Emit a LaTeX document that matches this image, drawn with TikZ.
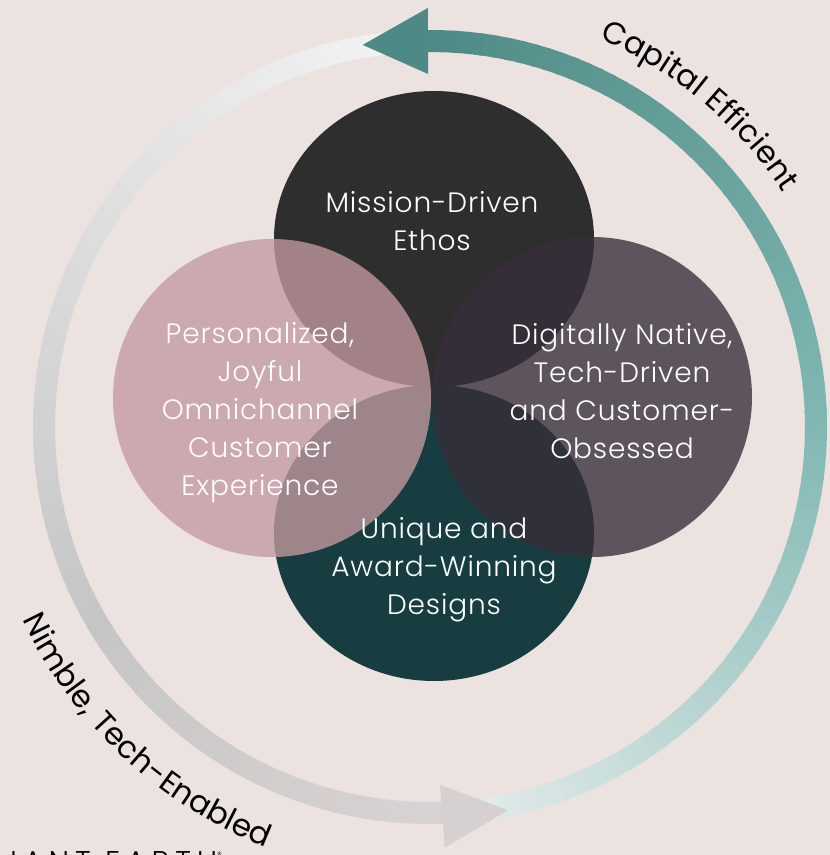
\documentclass[tikz,border=0pt]{standalone}
\usepackage{fontspec}
\usepackage{tikz}
\usetikzlibrary{shapes.geometric,calc,decorations.text}
\newfontfamily\lightfont{Poppins Light}[LetterSpace=3.0]
\newfontfamily\curvefont{Poppins}[LetterSpace=2.0]
\newfontfamily\brandfont{Poppins Light}[LetterSpace=20.0]
\definecolor{bg}{HTML}{ECE2E0}
\definecolor{tealTop}{HTML}{4E8A85}
\definecolor{tealMid}{HTML}{80B7B2}
\definecolor{tealLow}{HTML}{E2EBEB}
\definecolor{greyTop}{HTML}{F3F2F2}
\definecolor{greyMid}{HTML}{C6C5C5}
\definecolor{greyLow}{HTML}{D8D3D2}
\definecolor{headGrey}{HTML}{D6D1D0}
\definecolor{missionC}{HTML}{2E2E2E}
\definecolor{designC}{HTML}{183D40}
\definecolor{personalC}{HTML}{C39AA0}
\definecolor{digitalC}{HTML}{372D3A}

\begin{document}
\begin{tikzpicture}[x=1pt,y=1pt]
  \tikzstyle{blob}=[ellipse,inner sep=0pt,draw=none]
  \tikzstyle{lbl}=[text=white,align=center,font=\lightfont\fontsize{28}{38}\selectfont]
  \tikzstyle{ringseg}=[line width=22pt]

  \fill[bg] (0,0) rectangle (830,855);
  \useasboundingbox (0,0) rectangle (830,855);
  \coordinate (O) at (430,428);

  % teal arc, light at the bottom, dark at the top
  \foreach \a in {-84,-82,...,88}{
    \pgfmathsetmacro\p{\a>0 ? \a/90*100 : (-\a)/84*100}
    \ifnum\a>0 \colorlet{seg}{tealTop!\p!tealMid}\else\colorlet{seg}{tealLow!\p!tealMid}\fi
    \draw[ringseg,seg] ($(O)+(\a:386)$) arc[start angle=\a, end angle=\a+2.6, radius=386];
  }
  % grey arc down the left side
  \foreach \a in {96,98,...,270}{
    \pgfmathsetmacro\p{\a<210 ? (\a-96)/114*100 : (\a-210)/60*100}
    \ifnum\a<210 \colorlet{seg}{greyMid!\p!greyTop}\else\colorlet{seg}{greyLow!\p!greyMid}\fi
    \draw[ringseg,seg] ($(O)+(\a:386)$) arc[start angle=\a, end angle=\a+2.6, radius=386];
  }
  % heads
  \fill[tealTop] ($(O)+(100:388)$) -- ($(O)+(90.3:419)$) -- ($(O)+(90.3:353)$) -- cycle;
  \fill[headGrey] ($(O)+(-78.5:391)$) -- ($(O)+(-88:421)$) -- ($(O)+(-88.4:358)$) -- cycle;

  \node[blob,fill=missionC,minimum width=320pt,minimum height=296pt] (mission) at (434,616) {};
  \node[blob,fill=designC,minimum width=320pt,minimum height=296pt] (designs) at (434,322) {};
  \node[blob,fill=personalC,fill opacity=0.78,minimum size=318pt] (personal) at (272,457) {};
  \node[blob,fill=digitalC,fill opacity=0.785,minimum size=320pt] (digital) at (592,458) {};

  \node[lbl] (missionT) at (432,634) {Mission-Driven\\Ethos};
  \node[lbl] (digitalT) at (622,464) {Digitally Native,\\Tech-Driven\\and Customer-\\Obsessed};
  \node[lbl] (personalT) at (260,442) {Personalized,\\Joyful\\Omnichannel\\Customer\\Experience};
  \node[lbl] (designsT) at (444,285) {Unique and\\Award-Winning\\Designs};

  \path[decorate,decoration={text along path,text align=center,
      text={|\curvefont\fontsize{31}{31}\selectfont|Capital Efficient}}]
    ($(O)+(78:424)$) arc[start angle=78, end angle=22, radius=424];
  \path[decorate,decoration={text along path,text align=center,
      text={|\curvefont\fontsize{31}{31}\selectfont|Nimble, Tech-Enabled}}]
    ($(O)+(194:451)$) arc[start angle=194, end angle=260, radius=451];

  \node[anchor=base west,inner sep=0pt,font=\brandfont\fontsize{30}{30}\selectfont] (brand) at (10,-17)
    {IANT EARTH\raisebox{14pt}{\fontsize{9}{9}\selectfont ®}};
\end{tikzpicture}
\end{document}
